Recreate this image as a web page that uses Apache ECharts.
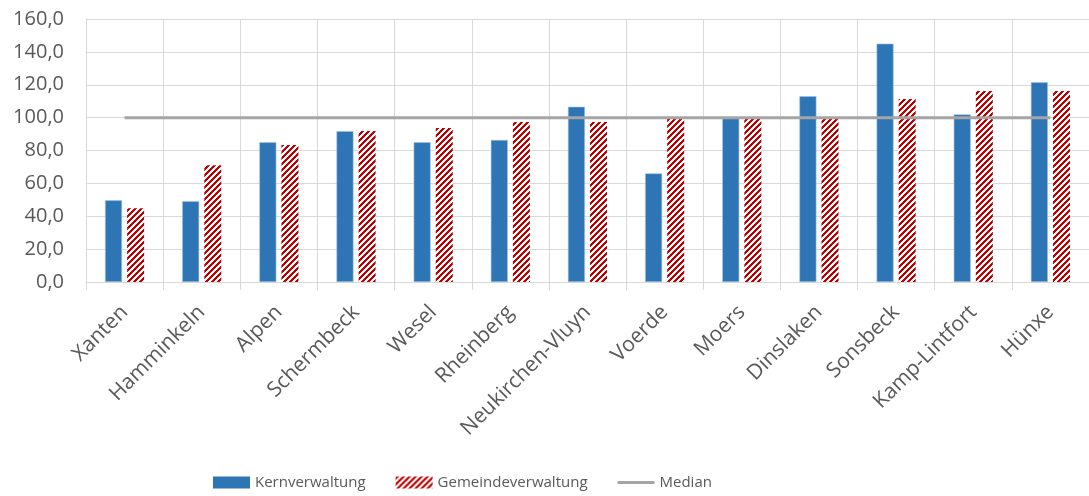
<!DOCTYPE html>
<html>
<head>
<meta charset="utf-8">
<script src="https://cdn.jsdelivr.net/npm/echarts@6/dist/echarts.min.js"></script>
<style>
html,body{margin:0;padding:0;background:#fff;}
#chart{width:1089px;height:496px;}
</style>
</head>
<body>
<div id="chart"></div>
<script>
const categories = ['Xanten','Hamminkeln','Alpen','Schermbeck','Wesel','Rheinberg','Neukirchen-Vluyn','Voerde','Moers','Dinslaken','Sonsbeck','Kamp-Lintfort','Hünxe'];
const kernverwaltung = [49.7, 49.1, 85.0, 91.8, 85.0, 86.4, 106.6, 66.1, 99.6, 113.0, 145.0, 102.0, 121.5];
const gemeindeverwaltung = [44.8, 71.0, 83.3, 91.8, 93.7, 97.3, 97.3, 99.1, 99.4, 99.4, 111.3, 116.2, 116.2];
const median = [100, 100, 100, 100, 100, 100, 100, 100, 100, 100, 100, 100, 100];
const yTicks = {min: 0, max: 160, interval: 20};

function stripePattern() {
  const c = document.createElement('canvas');
  const n = 6;
  c.width = n; c.height = n;
  const ctx = c.getContext('2d');
  ctx.fillStyle = '#ffffff';
  ctx.fillRect(0, 0, n, n);
  ctx.fillStyle = '#c00000';
  for (let x = 0; x < n; x++) {
    for (let y = 0; y < n; y++) {
      if ((x + y) % n < 3) ctx.fillRect(x, y, 1, 1);
    }
  }
  return c;
}

const font = '"Open Sans", sans-serif';
const chart = echarts.init(document.getElementById('chart'), null, {renderer: 'canvas'});
chart.setOption({
  animation: false,
  backgroundColor: '#ffffff',
  textStyle: {fontFamily: font},
  grid: {left: 86, top: 19, width: 1012, height: 263, containLabel: false},
  legend: {
    left: 208, top: 470,
    itemWidth: 37, itemHeight: 12, itemGap: 30,
    itemStyle: {borderWidth: 0},
    textStyle: {color: '#595959', fontSize: 15, fontFamily: font},
    data: [
      {name: 'Kernverwaltung', icon: 'rect'},
      {name: 'Gemeindeverwaltung', icon: 'rect'},
      {name: 'Median', icon: 'path://M0,0H40V3H0Z'}
    ]
  },
  xAxis: {
    type: 'category',
    data: categories,
    boundaryGap: true,
    axisLine: {show: true, lineStyle: {color: '#d9d9d9', width: 1}},
    axisTick: {show: true, length: 8, lineStyle: {color: '#d9d9d9'}},
    splitLine: {show: true, lineStyle: {color: '#d9d9d9', width: 1}},
    axisLabel: {rotate: 45, margin: 27, color: '#595959', fontSize: 21, fontFamily: font, interval: 0}
  },
  yAxis: {
    type: 'value',
    min: yTicks.min, max: yTicks.max, interval: yTicks.interval,
    axisLine: {show: true, lineStyle: {color: '#d9d9d9'}},
    axisTick: {show: false},
    splitLine: {show: true, lineStyle: {color: '#d9d9d9', width: 1}},
    axisLabel: {margin: 22, color: '#595959', fontSize: 20, fontFamily: font,
      formatter: v => v.toFixed(1).replace('.', ',')}
  },
  series: [
    {
      name: 'Kernverwaltung', type: 'bar', data: kernverwaltung,
      barWidth: 17, barGap: '30%',
      itemStyle: {color: '#2e75b6', borderColor: '#9dc3e6', borderWidth: 0.6}
    },
    {
      name: 'Gemeindeverwaltung', type: 'bar', data: gemeindeverwaltung,
      barWidth: 17,
      itemStyle: {color: {image: stripePattern(), repeat: 'repeat'}}
    },
    {
      name: 'Median', type: 'line', data: median,
      symbol: 'none', showSymbol: false,
      lineStyle: {color: '#a5a5a5', width: 3},
      itemStyle: {color: '#a5a5a5'}
    }
  ]
});
</script>
</body>
</html>
